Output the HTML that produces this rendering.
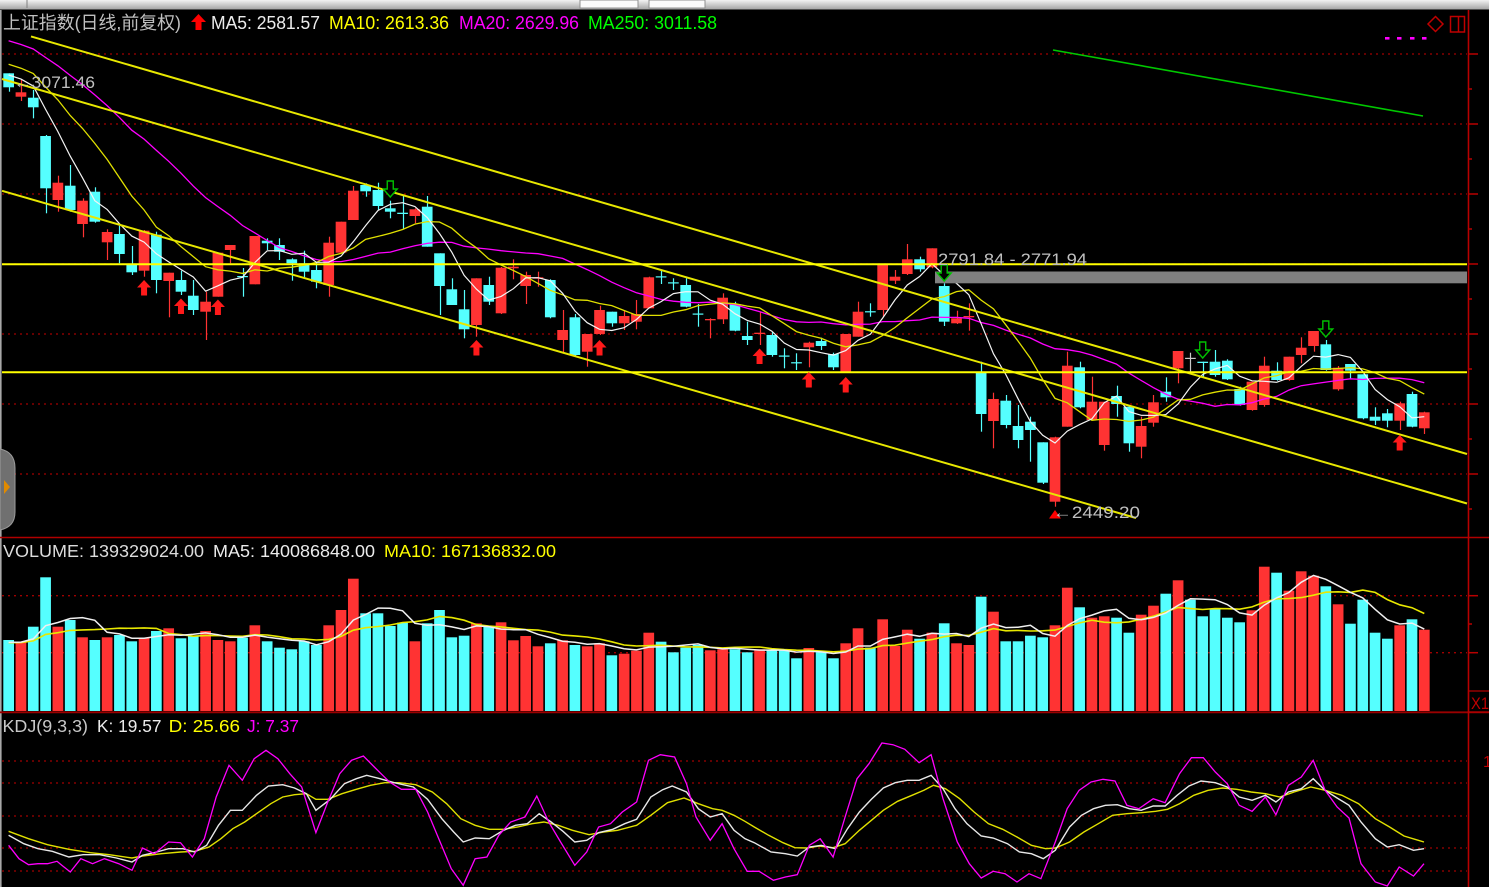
<!DOCTYPE html>
<html><head><meta charset="utf-8">
<style>
html,body{margin:0;padding:0;background:#000;width:1489px;height:887px;overflow:hidden}
svg{display:block}
text{font-family:"Liberation Sans","Noto Sans CJK SC",sans-serif;}
</style></head><body>
<svg id="s" width="1489" height="887" viewBox="0 0 1489 887" xmlns="http://www.w3.org/2000/svg">
<defs><linearGradient id="tg" x1="0" y1="0" x2="0" y2="1"><stop offset="0" stop-color="#f2f2f2"/><stop offset="1" stop-color="#a8a8a8"/></linearGradient></defs>
<rect width="1489" height="887" fill="#000"/>
<!-- top strip -->
<rect x="0" y="0" width="1489" height="9" fill="url(#tg)"/>
<rect x="580" y="0" width="58" height="8" fill="#fafafa" stroke="#909090" stroke-width="1"/>
<rect x="649" y="0" width="56" height="8" fill="#fafafa" stroke="#909090" stroke-width="1"/>
<line x1="27" y1="0" x2="27" y2="8" stroke="#808080"/>
<line x1="0" y1="9.5" x2="1489" y2="9.5" stroke="#505050"/>
<rect x="0" y="10" width="1.6" height="877" fill="#a8a8a8"/>

<!-- grid -->
<g stroke="#a00000" stroke-width="1.3" stroke-dasharray="2 4">
<line x1="2" y1="54" x2="1467" y2="54"/>
<line x1="2" y1="124" x2="1467" y2="124"/>
<line x1="2" y1="194" x2="1467" y2="194"/>
<line x1="2" y1="264" x2="1467" y2="264"/>
<line x1="2" y1="334" x2="1467" y2="334"/>
<line x1="2" y1="404" x2="1467" y2="404"/>
<line x1="2" y1="474" x2="1467" y2="474"/>
<line x1="2" y1="595.7" x2="1467" y2="595.7"/>
<line x1="2" y1="652.7" x2="1467" y2="652.7"/>
<line x1="2" y1="761" x2="1467" y2="761"/>
<line x1="2" y1="783" x2="1467" y2="783"/>
<line x1="2" y1="816" x2="1467" y2="816"/>
<line x1="2" y1="848" x2="1467" y2="848"/>
<line x1="2" y1="871" x2="1467" y2="871"/>
</g>

<g id="gv"></g>
<g id="gvm"></g>
<g id="gc"></g>
<g id="gm"></g>

<!-- trend lines -->
<g stroke="#e8e800" stroke-width="2" fill="none">
<line x1="31" y1="36.4" x2="1467" y2="454"/>
<line x1="2" y1="79" x2="1467" y2="503.5"/>
<line x1="2" y1="190.8" x2="1136" y2="518"/>
</g>
<g stroke="#ffff00" stroke-width="2">
<line x1="2" y1="264.3" x2="1467" y2="264.3"/>
<line x1="2" y1="372.3" x2="1467" y2="372.3"/>
</g>
<rect x="935" y="271.5" width="532" height="11.8" fill="#808080"/>
<!-- MA250 -->
<line x1="1053" y1="50" x2="1423" y2="116" stroke="#00c800" stroke-width="1.6"/>
<g fill="#ff00ff">
<rect x="1385" y="37" width="4.5" height="2.6"/>
<rect x="1397" y="37" width="4.5" height="2.6"/>
<rect x="1410" y="37" width="4.5" height="2.6"/>
<rect x="1422" y="37" width="4.5" height="2.6"/>
</g>
<!-- icons top right -->
<polygon points="1435.5,16.5 1443,24 1435.5,31.5 1428,24" fill="none" stroke="#c00000" stroke-width="1.5"/>
<rect x="1450.5" y="16.5" width="14" height="15.5" fill="none" stroke="#c00000" stroke-width="1.5"/>
<line x1="1458.5" y1="16.5" x2="1458.5" y2="32" stroke="#c00000" stroke-width="1.5"/>

<g id="ga"></g>

<!-- KDJ lines -->
<g fill="none" stroke-width="1.4">
<polyline stroke="#e0e000" points="8.6,831.3 28.5,838.7 47.5,844.7 68.9,849.3 90.3,852.7 109.3,854.7 132,858 142.5,856 161.5,853.7 180.5,852 194.8,851.3 209,847 220.9,838.7 232.8,828.7 244.7,822 256.5,813.7 270.8,803.7 282.7,797 294.5,794.7 306.4,793.7 315.9,799.3 327.8,799.3 342,793.7 356.3,789.3 370.5,785.3 384.8,782.7 399,782.7 415.7,784.7 432.3,792 446.6,803.7 460.8,818.7 475.1,825.3 489.3,829.3 503.6,829.3 517.8,827 532.1,823.7 543.9,822 558.2,825.3 572.4,830.3 589.1,834.7 603.3,832 617.6,830.3 636.6,825.3 650.8,815.3 667.5,802.7 684.1,798 698.3,803.7 712.6,808.7 722.1,810.3 734,815.3 744.9,821.3 754.3,827 768.7,835.3 783,842.7 794.9,847.7 806.9,848 818.8,846 833.1,847.7 845.1,843.7 859.4,830.3 871.4,820.3 883.3,810.3 897.6,801.3 912,795.3 923.9,790.3 933.5,785.3 945.4,788.7 959.7,798.7 974.1,812 988.4,823.7 1002.7,829.3 1017,837 1031.4,845.3 1045.7,848.7 1055.3,848 1069.6,842 1083.9,832 1098.3,823.7 1112.6,815.3 1126.9,813.7 1141.2,812.7 1155.6,811.3 1167.5,809.3 1179.5,803.7 1193.8,795.3 1208.1,790.3 1222.4,788 1236.8,789.3 1251.1,792 1265.4,793.7 1279.8,797 1294.1,792 1310.8,787 1325.1,790.3 1341.9,795.3 1358.6,803.7 1375.3,818.7 1389.6,827 1404,836 1418.3,840.3 1424,842"/>
<polyline stroke="#e8e8e8" points="8.6,835.3 23.8,843.7 38,848.7 52.3,851.3 68.9,857 83.1,854.7 99.8,854.7 116.4,858 132,862 142.5,855.3 156.8,852 168.6,848.7 182.9,848.7 194.8,852 206.6,845.3 218.5,825.3 230.4,810.3 242.3,810.3 256.5,795.3 268.4,786 282.7,784.7 294.5,788 306.4,793.7 315.9,810.3 330.2,799.3 344.4,783.7 356.3,778.7 366.7,775.3 380,778.7 394.3,782.7 413.3,787 427.6,799.3 441.8,818.7 453.7,832 463.2,842 475.1,838 489.3,838.7 503.6,830.3 515.4,825.3 527.3,823.7 539.2,813.7 551.1,822 563,831.3 574.8,842 586.7,840.3 598.6,832.7 612.8,829.3 624.7,823.7 636.6,819.3 650.8,797 662.7,789.7 672.2,786 686.5,792 698.3,808.7 710.2,817 722.1,813.7 734,830.3 744.9,838.7 754.3,842.7 771,852 785.4,853.7 797.3,856 809.3,847 821.2,845.3 835.5,848.7 847.5,828.7 859.4,812 871.4,799.3 883.3,788 895.2,782.7 907.2,780.3 919.1,780.3 931.1,775.3 943,788.7 955,808.7 966.9,823.7 981.2,836 993.2,838 1007.5,843.7 1019.4,852 1031.4,853.7 1043.3,858.7 1055.3,850.3 1069.6,827 1081.5,815.3 1093.5,808.7 1105.4,805.3 1117.4,804.7 1129.3,808.7 1141.2,810.3 1153.2,806 1165.1,806 1177.1,795.3 1189,786 1201,781 1215.3,782.7 1227.2,787 1239.2,797 1252.1,800.3 1265.4,795.3 1275.9,802 1288.4,792 1301.3,788.7 1313.2,778.7 1325.1,790.3 1337.1,798 1349,805.3 1361,822 1375.3,838.7 1387.3,847 1399.2,844.7 1413.5,850.3 1424,848.7"/>
<polyline stroke="#ff00ff" stroke-width="1.3" points="8.6,845.3 19,858.7 28.5,864.7 38,863.7 47.5,863.7 57,861.3 61.8,865.3 70.3,872 80.8,858.7 92.6,863.7 104.5,858.7 118.8,863.7 132,870.3 142.5,848 154.4,853.7 168.6,842 180.5,842.7 192.4,857 204.3,838.7 216.2,797 229,765.3 242.3,780.3 254.2,758.7 266,750.3 277.9,758.7 289.8,773.7 301.7,787 315.9,832.7 327.8,802 339.7,773.7 351.5,760.3 363.4,756 375.3,768 389.5,782 401.4,789.3 415.7,789.3 427.6,812 439.4,840.3 451.3,868.7 463.2,885.3 475.1,858.7 486.9,857 498.8,835.3 510.7,822 525,817 536.8,796 548.7,822 560.6,842 574.8,865.3 586.7,852 598.6,827 610.5,823.7 622.3,812 636.6,802 648.5,760.3 660.3,754.7 674.6,757 686.5,783.7 696,817 710.2,840.3 722.1,823.7 734,848.7 747.2,871.3 759.1,871.3 773.4,880.3 785.4,877 797.3,874.7 809.3,845.3 820.2,838.7 833.1,857 845.1,817 857,778.7 869,763.7 881.9,743 892.9,744.7 904.8,749.3 919.1,762.7 931.1,754.7 943,798.7 957.3,842 969.3,863.7 981.2,878 993.2,871.3 1005.1,873.7 1017,882 1029,873.7 1040.9,878.7 1055.3,842 1067.2,808.7 1079.1,790.3 1091.1,782 1103,779.3 1115,781 1126.9,805.3 1138.9,808.7 1153.2,798.7 1165.1,802.7 1179.5,773.7 1191.4,757.7 1203.3,757.7 1215.3,772 1227.2,783.7 1239.2,805.3 1252.1,811.3 1265.4,797 1275.9,814.7 1288.4,785.3 1301.3,777 1313.2,760.3 1325.1,790.3 1337.1,807 1349,818 1361,863.7 1375.3,882 1387.3,886 1399.2,867 1413.5,876 1424,863.7"/>
</g>

<!-- panel separators & axis -->
<line x1="0" y1="537.5" x2="1489" y2="537.5" stroke="#b00000" stroke-width="1.5"/>
<line x1="0" y1="712.3" x2="1489" y2="712.3" stroke="#9a0000" stroke-width="1.8"/>
<line x1="1468.5" y1="10" x2="1468.5" y2="887" stroke="#b80000" stroke-width="1.6"/>
<g stroke="#b80000" stroke-width="1.5">
<line x1="1468" y1="54" x2="1478" y2="54"/>
<line x1="1468" y1="89" x2="1472" y2="89"/>
<line x1="1468" y1="124" x2="1478" y2="124"/>
<line x1="1468" y1="159" x2="1472" y2="159"/>
<line x1="1468" y1="194" x2="1478" y2="194"/>
<line x1="1468" y1="229" x2="1472" y2="229"/>
<line x1="1468" y1="264" x2="1478" y2="264"/>
<line x1="1468" y1="299" x2="1472" y2="299"/>
<line x1="1468" y1="334" x2="1478" y2="334"/>
<line x1="1468" y1="369" x2="1472" y2="369"/>
<line x1="1468" y1="404" x2="1478" y2="404"/>
<line x1="1468" y1="439" x2="1472" y2="439"/>
<line x1="1468" y1="474" x2="1478" y2="474"/>
<line x1="1468" y1="509" x2="1472" y2="509"/>
<line x1="1468" y1="595.7" x2="1478" y2="595.7"/>
<line x1="1468" y1="624" x2="1472" y2="624"/>
<line x1="1468" y1="652.7" x2="1478" y2="652.7"/>
</g>
<rect x="1468.5" y="691" width="22" height="21" fill="none" stroke="#b80000" stroke-width="1.2"/>
<text x="1471" y="709" font-size="17" fill="#c00000" textLength="18" lengthAdjust="spacingAndGlyphs">X1</text>
<text x="1483" y="767" font-size="16" fill="#c00000">1</text>

<!-- left tab -->
<path d="M0,449 Q15,452 15,468 L15,512 Q15,527 0,530 Z" fill="#707070" stroke="#9c9c9c" stroke-width="1"/>
<polygon points="4,480 10,487 4,494" fill="#e08a00"/>

<!-- header texts -->
<text x="3" y="29" font-size="18" fill="#c0c0c0" textLength="178" lengthAdjust="spacingAndGlyphs">上证指数(日线,前复权)</text>
<polygon points="198.5,14 206,22 201.5,22 201.5,30 195.5,30 195.5,22 191,22" fill="#ff0000"/>
<text x="211" y="29" font-size="18" fill="#ececec" textLength="109" lengthAdjust="spacingAndGlyphs">MA5: 2581.57</text>
<text x="329" y="29" font-size="18" fill="#ffff00" textLength="120" lengthAdjust="spacingAndGlyphs">MA10: 2613.36</text>
<text x="459" y="29" font-size="18" fill="#ff00ff" textLength="120" lengthAdjust="spacingAndGlyphs">MA20: 2629.96</text>
<text x="588" y="29" font-size="18" fill="#00ff00" textLength="129" lengthAdjust="spacingAndGlyphs">MA250: 3011.58</text>

<text x="14" y="88" font-size="17" fill="#c0c0c0" textLength="81" lengthAdjust="spacingAndGlyphs">←3071.46</text>
<text x="938" y="265" font-size="17" fill="#c0c0c0" textLength="149" lengthAdjust="spacingAndGlyphs">2791.84 - 2771.94</text>
<polygon points="1055,510 1061,518.5 1049,518.5" fill="#ff0000"/>
<text x="1053" y="518" font-size="17" fill="#c0c0c0" textLength="87" lengthAdjust="spacingAndGlyphs">←2449.20</text>

<text x="3" y="557" font-size="17.5" fill="#dcdcdc" textLength="201" lengthAdjust="spacingAndGlyphs">VOLUME: 139329024.00</text>
<text x="213" y="557" font-size="17.5" fill="#ececec" textLength="162" lengthAdjust="spacingAndGlyphs">MA5: 140086848.00</text>
<text x="384" y="557" font-size="17.5" fill="#ffff00" textLength="172" lengthAdjust="spacingAndGlyphs">MA10: 167136832.00</text>

<text x="2.5" y="732" font-size="17.5" fill="#c8c8c8" textLength="85.5" lengthAdjust="spacingAndGlyphs">KDJ(9,3,3)</text>
<text x="97" y="732" font-size="17.5" fill="#ececec" textLength="64.5" lengthAdjust="spacingAndGlyphs">K: 19.57</text>
<text x="168.6" y="732" font-size="17.5" fill="#ffff00" textLength="71.4" lengthAdjust="spacingAndGlyphs">D: 25.66</text>
<text x="247" y="732" font-size="17.5" fill="#ff00ff" textLength="52" lengthAdjust="spacingAndGlyphs">J: 7.37</text>
</svg>
<script>
(function(){
var NS='http://www.w3.org/2000/svg';
function mk(t,a,p){var e=document.createElementNS(NS,t);for(var k in a)e.setAttribute(k,a[k]);p.appendChild(e);return e;}
var CD="c,73.3,73.3,87.3,91.7 r,80,92.3,96.7,101 c,90,97.7,107.3,118.3 c,135,136,188.3,213.3 r,175.7,182.7,200,211.7 c,165,185.7,210,211.7 r,198.3,200.7,224,237.3 c,187.3,191.7,221.7,222.7 r,229.3,232,242.3,260 c,225.7,234,254,263.3 "+
"c,246,265,272.3,275 r,230,230.7,270.7,276.7 c,231.7,234.7,280,293.3 r,272.7,272.7,281,317.3 c,270.7,280,291.7,295 c,280,295.7,310,315 r,291.7,301.7,311.7,340 r,252.7,252.7,296.7,296.7 r,245,245,250,263.3 c,268,276,277,296.7 "+
"r,236,236,284.3,284.3 c,238.3,240.7,243.3,250 c,238.3,245,251.7,260 c,258.3,259.3,263.3,280.7 c,250.7,263.3,271.7,278.3 c,261.7,270,281.7,288.3 r,236.7,242.7,285,296.7 r,221.7,221.7,252.7,252.7 r,186,190.7,220,220 c,183.3,185,191.3,196.7 "+
"c,182.7,190,206,210 c,200.7,208.3,211.7,218.3 c,195,212.7,214,229.3 r,208.3,209.3,216,223.3 c,196,206.7,246.7,246.7 c,253.3,253.3,286,315 c,278.3,289.3,305,305 c,290,309.3,329.3,338.3 r,278.3,278.3,325,336.7 c,276.7,285,301.7,305 "+
"r,267,267.7,313.3,314 r,259.3,266.7,268.3,279.3 r,271.7,275,286,304 r,271.7,277.3,278.7,286.7 c,279.3,280,317.3,318.3 r,310,330,340,352.7 c,314,317.3,355,356.7 r,334,334,351.7,366.7 r,305.7,310,334,335 c,311.7,311.7,323.3,326.7 "+
"r,310,316,323.3,330 r,300,314,321.7,329.3 r,276.7,277.3,308.3,308.3 c,270.7,276.3,277.3,284 c,278.3,282.3,283.3,290 c,278.3,285,306.7,307.3 c,304,313.5,314.5,326.7 r,318.3,319,320.3,338.3 r,293.3,297.7,319.3,324 c,301.7,304,330.7,331.3 "+
"c,321.7,336,340,345 r,311.7,332.7,334,345 c,331.7,335,355,356.7 c,348.3,355.5,356.5,368.3 c,353.3,362.2,363.2,370 r,341.7,342.7,347.3,367.3 c,337.7,341,346,350 c,352.7,354,367.3,370 r,334,334,372.7,372.7 r,301.7,311.7,336.7,336.7 "+
"c,303.3,311.2,312.2,316.7 r,265,265,310,316.7 r,270,276.7,280.7,284 r,244,259.3,274,275 c,256.7,259.3,269.3,271.7 r,248.3,248.3,267.3,268.3 c,283.3,286,321.7,326 r,310.7,318.3,323.3,324 r,303.3,316,317.3,330.7 c,361.7,372.5,414,431.7 "+
"r,392.7,399,421,448.3 c,395,400.7,425,428.3 c,405,426,440,448.3 c,416.7,421.7,430,461.7 c,442.3,442.3,482.7,484 r,436.7,437.3,501.7,506.7 r,351.7,365.7,426.7,426.7 c,361.7,367.3,407.3,408.3 r,376.7,401.7,420,420 r,401.7,401.7,445,450.7 "+
"c,385.7,396,404,416.7 c,405,406.7,443.3,451.7 r,416.7,426,446.7,458.3 r,395,402.3,422.7,426.7 c,377.3,391.7,397.3,401.7 r,351,351,368.3,383.3 w,352.7,357.8,358.8,371.7 c,361.7,361.7,363,376.7 c,350,361.7,375,376.7 c,359.3,360.7,379.3,380 "+
"c,386.7,389,405,405.7 r,381.7,381.7,410,410.7 r,356.7,365.7,405,406.7 c,362.3,370.7,380,380.7 r,356.7,356.7,380,380.7 r,337.3,347.7,355,363.3 r,331,331,346,351.7 c,340,344.3,370,370.7 r,366,367.7,389.3,390.7 c,364,364,370.7,379.3 "+
"c,374.3,374.3,418.3,419.3 c,407.3,416.7,420.7,425 c,409,413.3,420.7,427.3 r,401.7,403.3,420.7,430 c,391.7,394,426.7,427.3 r,411.7,412.3,428.3,434";
var cand=CD.trim().split(/\s+/).map(function(s){var p=s.split(',');return {c:p[0],h:+p[1],t:+p[2],b:+p[3],l:+p[4]};});
var VT=[640,641.7,626.7,577.3,626.7,620,637.3,640,637.3,635,
641.3,637.7,631,628.3,638.3,636,631,640,641.3,637.7,
625.3,641.3,647.7,649.3,641.3,645,625.3,610,578.7,613.3,
613.3,626,622.7,641.3,623.3,610,637.3,635.7,623.3,626.7,
622.3,640.3,636,646.3,643.3,640.3,645,646.3,643.3,655.3,
653.7,650.7,632.7,641.7,652.3,647.7,645,650.3,649.3,649.3,
652.3,649.3,650,650.7,658.3,648,652.3,658.3,643.3,628.3,
647.7,619.3,646,629.7,638.7,632.7,623.3,643.3,645,596.7,
611.7,641.3,641.3,635.7,637.3,625.3,587.7,607.3,617.7,616.3,
617.7,632.7,614.7,605.7,593.7,580.3,599.7,616.3,608.7,617.7,
622.3,610.3,566.7,572.7,590.7,571.3,575.7,586.3,604.3,623.7,
599.7,632.7,638.7,625.3,619.3,629.7];
var col={c:'#55ffff',r:'#ff3333',w:'#c8c8c8'};
var gV=document.getElementById('gv'),gC=document.getElementById('gc'),gM=document.getElementById('gm'),gVM=document.getElementById('gvm'),gA=document.getElementById('ga');
function X(i){return 3.3+12.31*i;}
var N=cand.length;
for(var i=0;i<N;i++){
  var d=cand[i],x0=X(i),cx=Math.round(x0+5.35)+0.5,cl=col[d.c];
  mk('line',{x1:cx,y1:d.h,x2:cx,y2:d.l,stroke:cl,'stroke-width':1.2},gC);
  mk('rect',{x:x0.toFixed(2),y:d.t,width:10.7,height:Math.max(1.2,d.b-d.t).toFixed(2),fill:cl},gC);
  var vc=d.c==='r'?col.r:col.c;
  mk('rect',{x:x0.toFixed(2),y:VT[i],width:10.7,height:(711-VT[i]).toFixed(2),fill:vc},gV);
}
function ma(arr,n,off){var out=[];for(var i=0;i<N;i++){var s=0;for(var k=0;k<n;k++)s+=arr[off+i-k];out.push(s/n);}return out;}
function poly(vals,stroke,w,g,f){mk('polyline',{points:vals.map(function(v,i){return (X(i)+5.35).toFixed(1)+','+(f?f(v):v).toFixed(1);}).join(' '),fill:'none',stroke:stroke,'stroke-width':w},g);}
var closes=cand.map(function(d){return d.c==='r'?d.t:d.b;});
var pre=[];for(var k=0;k<10;k++)pre.push(17.1);for(k=0;k<5;k++)pre.push(53.6);for(k=0;k<4;k++)pre.push(71.9);
var all=pre.concat(closes);
poly(ma(all,20,19),'#ff00ff',1.3,gM);
poly(ma(all,10,19),'#e0e000',1.3,gM);
poly(ma(all,5,19),'#f4f4f4',1.2,gM);
var hv=[];for(k=0;k<9;k++)hv.push(68);
var hall=hv.concat(VT.map(function(t){return 711-t;}));
poly(ma(hall,10,9),'#e8e800',1.6,gVM,function(v){return 711-v;});
poly(ma(hall,5,9),'#f0f0f0',1.5,gVM,function(v){return 711-v;});
// arrows
function cxOf(i){return X(i-1)+5.35;}
var ups=[[12,280],[15,298.5],[18,299.5],[39,340],[49,340],[62,348.5],[66,372],[69,377],[114,435]];
ups.forEach(function(a){var c=cxOf(a[0]),t=a[1];
  mk('polygon',{points:[c+','+t,(c+7)+','+(t+7.5),(c+3)+','+(t+7.5),(c+3)+','+(t+15.5),(c-3)+','+(t+15.5),(c-3)+','+(t+7.5),(c-7)+','+(t+7.5)].join(' '),fill:'#ff1a1a'},gA);});
var dns=[[32,181],[77,265],[98,342],[108,321]];
dns.forEach(function(a){var c=cxOf(a[0]),t=a[1];
  mk('polygon',{points:[(c-3)+','+t,(c+3)+','+t,(c+3)+','+(t+8),(c+7)+','+(t+8),c+','+(t+16),(c-7)+','+(t+8),(c-3)+','+(t+8)].join(' '),fill:'#000','stroke':'#00c000','stroke-width':1.4},gA);});
})();
</script>
</body></html>
